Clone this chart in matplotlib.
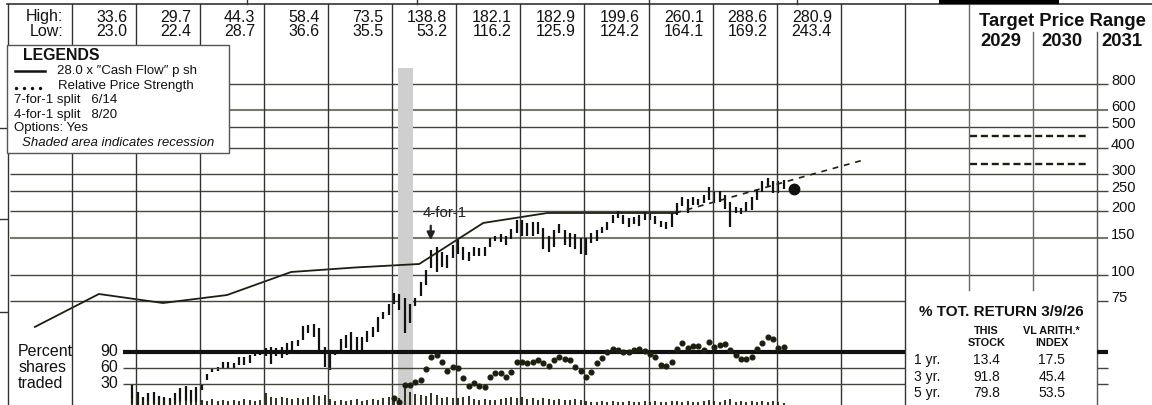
import numpy as np
import matplotlib.pyplot as plt
from matplotlib.patches import Rectangle
from matplotlib.transforms import offset_copy

plt.rcParams['font.family'] = ['Liberation Sans', 'DejaVu Sans']

W, H = 1152, 405

# yearly high / low row
hl_years = list(range(2015, 2027))
hl_high = [33.6, 29.7, 44.3, 58.4, 73.5, 138.8, 182.1, 182.9, 199.6, 260.1, 288.6, 280.9]
hl_low = [23.0, 22.4, 28.7, 36.6, 35.5, 53.2, 116.2, 125.9, 124.2, 164.1, 169.2, 243.4]

# monthly price bars, Dec 2015 .. Feb 2026
bar_high = [
    30.2,  # Dec 2015
    28.0, 26.5, 27.7, 28.0, 26.8, 26.5, 26.3, 27.7, 29.2, 29.9, 28.6, 29.5,
    30.5, 34.2, 36.1, 36.6, 38.9, 38.9, 38.2, 40.8, 41.0, 41.9, 44.2, 44.3,
    45.0, 45.5, 45.0, 45.8, 47.5, 48.9, 49.3, 57.3, 57.9, 58.4, 55.9, 45.8,
    43.4, 43.8, 49.7, 52.1, 53.8, 50.7, 50.7, 54.4, 57.0, 63.2, 67.1, 73.2,
    81.9, 81.4, 77.6, 72.7, 77.6, 92.7, 105.6, 131.3, 136.3, 128.7, 124.3, 138.8,
    146.4, 136.3, 128.7, 136.3, 133.7, 136.3, 149.2, 153.4, 156.8, 152.2, 164.5, 182.1,
    182.9, 176.3, 178.3, 178.3, 166.2, 152.2, 163.3, 175.1, 163.3, 157.8, 156.0, 149.2,
    149.2, 157.8, 163.3, 169.1, 178.3, 192.0, 199.6, 192.0, 185.7, 189.0, 192.0, 199.4,
    196.0, 190.5, 180.0, 178.0, 196.0, 218.0, 235.0, 229.0, 235.0, 229.0, 239.0, 260.1,
    248.0, 250.0, 239.0, 222.0, 210.0, 207.0, 222.0, 235.0, 254.0, 277.0, 288.6, 277.0,
    277.0, 280.9,
]
bar_low = [
    24.5,
    24.3, 22.4, 23.8, 24.6, 24.0, 23.6, 24.2, 24.5, 25.0, 25.3, 24.8, 25.2,
    28.7, 31.9, 34.9, 35.2, 36.1, 36.1, 36.1, 37.5, 37.5, 38.2, 41.4, 41.9,
    41.4, 37.9, 41.4, 40.3, 41.9, 44.2, 46.0, 49.3, 53.4, 51.1, 44.2, 36.6,
    35.5, 41.9, 43.0, 45.0, 43.4, 43.4, 43.4, 48.4, 51.1, 53.8, 62.1, 64.6,
    73.2, 68.4, 53.2, 59.0, 71.3, 79.6, 89.7, 107.6, 103.7, 109.5, 107.6, 119.9,
    126.2, 117.8, 116.2, 122.7, 122.7, 122.7, 136.3, 144.2, 142.9, 138.8, 147.5, 157.8,
    153.4, 152.2, 152.2, 157.0, 132.3, 128.7, 136.3, 157.8, 138.8, 135.4, 133.0, 125.9,
    124.2, 142.0, 144.0, 157.8, 163.3, 176.0, 185.7, 174.0, 168.0, 174.0, 170.0, 182.0,
    181.0, 175.0, 169.0, 164.1, 169.0, 192.0, 211.0, 196.0, 214.0, 214.0, 218.0, 226.0,
    218.0, 222.0, 206.0, 169.2, 196.0, 195.0, 200.0, 203.0, 226.0, 248.0, 263.0, 244.0,
    243.4, 254.0,
]

# monthly percent shares traded, Dec 2015 .. Feb 2026
volume = [
    13,
    14, 12, 11, 12, 13, 12, 11, 12, 13, 12, 11, 12,
    12, 11, 13, 11, 12, 11, 12, 11, 13, 12, 11, 12,
    19, 15, 14, 15, 14, 13, 14, 13, 15, 17, 16, 17,
    13, 11, 12, 11, 12, 13, 11, 12, 13, 12, 14, 15,
    12, 14, 27, 20, 18, 17, 16, 19, 17, 14, 15, 14,
    14, 15, 16, 13, 12, 13, 12, 12, 13, 14, 15, 14,
    15, 13, 14, 12, 14, 13, 12, 13, 12, 12, 13, 12,
    11, 10, 10, 11, 10, 11, 10, 10, 11, 10, 10, 11,
    10, 11, 10, 10, 11, 11, 10, 11, 10, 10, 11, 12,
    11, 10, 12, 13, 10, 11, 10, 11, 10, 11, 10, 11,
    10, 9,
]

# relative price strength, Jan 2020 .. Feb 2026
rel_strength = [
    0.711, 0.686, 0.794, 0.794, 0.814, 0.825, 0.892, 0.967, 0.981, 0.939, 0.883, 0.904,
    0.898, 0.836, 0.789, 0.804, 0.788, 0.783, 0.846, 0.867, 0.867, 0.846, 0.873, 0.936,
    0.936, 0.933, 0.938, 0.948, 0.929, 0.913, 0.950, 0.971, 0.958, 0.952, 0.908, 0.881,
    0.846, 0.877, 0.933, 0.964, 1.002, 1.019, 1.013, 0.998, 0.998, 1.013, 1.017, 1.008,
    0.988, 0.967, 0.917, 0.913, 0.938, 1.019, 1.054, 1.027, 1.038, 1.038, 1.013, 1.061,
    1.033, 1.042, 1.048, 1.013, 0.981, 0.956, 0.956, 0.971, 1.017, 1.058, 1.096, 1.081,
    1.023, 1.029,
]

# 28.0 x cash flow per share
cf_years = [2014.42, 2015.42, 2016.42, 2017.42, 2018.42, 2019.42, 2020.42,
            2021.42, 2022.42, 2023.42, 2024.42]
cf_values = [56.8, 81.3, 73.7, 80.4, 103.3, 108.5, 112.7, 176.2, 196.4, 196.4, 196.4]
cf_proj_years = [2024.42, 2025.42, 2026.42, 2027.33]
cf_proj_values = [196.4, 239.4, 291.6, 348.0]

recent_date, recent_price = 2026.27, 256.0
recession = (2020.084, 2020.318)
split_date = 2020.6
target_low, target_high = 335, 455

price_levels = [800, 600, 500, 400, 300, 250, 200, 150, 100, 75]
pct_levels = [90, 60, 30]

ret_rows = ['1 yr.', '3 yr.', '5 yr.']
ret_stock = [13.4, 91.8, 79.8]
ret_index = [17.5, 45.4, 53.5]

# scales (pixel grid of the original sheet)
X_LEFT, X_RIGHT = 2013.876, 2031.859
P_BOTTOM, P_TOP = 24.28, 1996.0

INK = '#111111'
GRID = '#45453a'
VLINE = '#333333'


def fr(x, y):
    """pixel layout -> axes fraction"""
    return x / W, 1 - y / H


fig = plt.figure(figsize=(W / 100, H / 100), dpi=100)
ax = fig.add_axes([0, 0, 1, 1])
ax.set_yscale('log')
ax.set_xlim(X_LEFT, X_RIGHT)
ax.set_ylim(P_BOTTOM, P_TOP)
ax.axis('off')

ax_vol = fig.add_axes([0, 0, 1, 1], zorder=2)
ax_vol.set_xlim(X_LEFT, X_RIGHT)
ax_vol.set_ylim(7, 412)
ax_vol.axis('off')

ax_pct = fig.add_axes([0, 0, 1, 1], zorder=3)
ax_pct.set_xlim(X_LEFT, X_RIGHT)
ax_pct.set_ylim(-9.375, 750)
ax_pct.axis('off')

ax_rs = fig.add_axes([0, 0, 1, 1], zorder=4)
ax_rs.set_xlim(X_LEFT, X_RIGHT)
ax_rs.set_ylim(0.66875, 3.2)
ax_rs.axis('off')

# price grid
for lv in price_levels:
    soft = lv in (150, 600)
    ax.hlines(lv, 2014.03, 2031.17, colors='#7a7a6a' if soft else GRID,
              lw=1.5 if soft else 1.0, zorder=1)
    ax.text(2031.22, lv, str(lv), fontsize=10.5, ha='left', va='center', color=INK,
            transform=offset_copy(ax.transData, fig=fig, y=3, units='dots'))

# year lines
top_f = fr(0, 4.3)[1]
box_top_f = fr(0, 290)[1]
head_f = fr(0, 32)[1]
for yr in range(2014, 2029):
    ax.axvline(yr, 0, top_f, color=VLINE, lw=1.0, zorder=5)
ax.axvline(2029, box_top_f, top_f, color='#666666', lw=1.0, zorder=5)
ax.axvline(2030, box_top_f, head_f, color='#666666', lw=1.0, zorder=5)
ax.axvline(2031, 0, head_f, color='#555555', lw=1.0, zorder=5)

# top frame pieces
ax.plot([7 / W, 1], [top_f, top_f], transform=ax.transAxes, color=VLINE, lw=1.2, zorder=5)
for xp in [247, 417, 649, 797]:
    ax.plot([xp / W, xp / W], [1, top_f], transform=ax.transAxes, color=VLINE, lw=1.0)
ax.add_patch(Rectangle(fr(939, 4.3), 120 / W, 4.3 / H, transform=ax.transAxes,
                       color='black', lw=0, zorder=5))
for yp in [128, 219, 312]:
    ax.plot([0, 7 / W], [fr(0, yp)[1]] * 2, transform=ax.transAxes, color=VLINE, lw=1.0)

# recession shading
ax.fill_between(list(recession), P_BOTTOM, 950, color='#cfcfcf', lw=0, zorder=2)

# price bars
t_bars = 2015 + (11.3 + np.arange(len(bar_high))) / 12
ax.vlines(t_bars, bar_low, bar_high, colors=INK, lw=1.6, zorder=3)
ax.plot([recent_date], [recent_price], 'o', ms=7.5, color=INK, zorder=3)

# cash flow line
ax.plot(cf_years, cf_values, color='#1e1e10', lw=1.3, zorder=3)
ax.plot(cf_proj_years, cf_proj_values, color='#1e1e10', lw=1.2, ls=(0, (3.5, 3.5)), zorder=3)

# split arrow
ax.annotate('', xy=(split_date, 146), xytext=(split_date, 171),
            arrowprops=dict(arrowstyle='-|>,head_width=0.22,head_length=0.45',
                            color='#222222', lw=1.6, shrinkA=0, shrinkB=0), zorder=4)
ax.text(split_date + 0.22, 196, '4-for-1', fontsize=10.8, ha='center', va='center',
        color='#222222', zorder=4)

# target price range
for tv in (target_low, target_high):
    ax.hlines(tv, 2029.02, 2030.86, colors='#1e1e10', lw=1.7, linestyles=(0, (3.0, 1.6)),
              zorder=4)
ax.text(*fr(1062, 22), 'Target Price Range', transform=ax.transAxes, fontsize=13.3,
        fontweight='bold', ha='center', va='center', color=INK)
for x_head, label in zip([1001, 1062, 1122], ['2029', '2030', '2031']):
    ax.text(*fr(x_head, 41), label, transform=ax.transAxes, fontsize=13.3,
            fontweight='bold', ha='center', va='center', color=INK)

# high / low row
ax.text(*fr(63.5, 17), 'High:', transform=ax.transAxes, fontsize=11.5, ha='right',
        va='center', color=INK)
ax.text(*fr(63.5, 31), 'Low:', transform=ax.transAxes, fontsize=11.5, ha='right',
        va='center', color=INK)
xt = ax.get_xaxis_transform()
for yr, hi, lo in zip(hl_years, hl_high, hl_low):
    ax.text(yr + 0.86, fr(0, 17)[1], f'{hi:.1f}', transform=xt, fontsize=11.5,
            ha='right', va='center', color=INK)
    ax.text(yr + 0.86, fr(0, 31)[1], f'{lo:.1f}', transform=xt, fontsize=11.5,
            ha='right', va='center', color=INK)

# legend box
ax.add_patch(Rectangle(fr(7, 153), 222 / W, 108 / H, transform=ax.transAxes,
                       facecolor='white', edgecolor='#555555', lw=1.0, zorder=6))
ax.text(*fr(23, 56), 'LEGENDS', transform=ax.transAxes, fontsize=11.4, fontweight='bold',
        va='center', color=INK, zorder=7)
ax.plot([15 / W, 45 / W], [fr(0, 71)[1]] * 2, transform=ax.transAxes, color=INK,
        lw=1.8, zorder=7)
ax.text(*fr(57, 71), '28.0 x \u2033Cash Flow\u2033 p sh', transform=ax.transAxes,
        fontsize=9.5, va='center', color=INK, zorder=7)
ax.plot(np.array([16, 24, 32, 40]) / W, [fr(0, 88)[1]] * 4, 'o', ms=1.4,
        transform=ax.transAxes, color=INK, zorder=7)
ax.text(*fr(58, 86), 'Relative Price Strength', transform=ax.transAxes, fontsize=9.5,
        va='center', color=INK, zorder=7)
for yp, line in zip([100, 115, 128], ['7-for-1 split   6/14', '4-for-1 split   8/20',
                                      'Options: Yes']):
    ax.text(*fr(14, yp), line, transform=ax.transAxes, fontsize=9.5, va='center',
            color=INK, zorder=7)
ax.text(*fr(22, 143), 'Shaded area indicates recession', transform=ax.transAxes,
        fontsize=9.5, style='italic', va='center', color=INK, zorder=7)

# total return box
ax.add_patch(Rectangle(fr(905, 405), 192 / W, 115 / H, transform=ax.transAxes,
                       facecolor='white', lw=0, zorder=4))
ax.text(*fr(1001, 312), '% TOT. RETURN 3/9/26', transform=ax.transAxes, fontsize=11,
        fontweight='bold', ha='center', va='center', color=INK, zorder=6)
for xc, l1, l2 in [(986.7, 'THIS', 'STOCK'), (1051.7, 'VL ARITH.*', 'INDEX')]:
    ax.text(*fr(xc, 330.5), l1, transform=ax.transAxes, fontsize=7.8, fontweight='bold',
            ha='center', va='center', color=INK, zorder=6)
    ax.text(*fr(xc, 343), l2, transform=ax.transAxes, fontsize=7.8, fontweight='bold',
            ha='center', va='center', color=INK, zorder=6)
for yp, row, s, ix in zip([360, 376.7, 393.3], ret_rows, ret_stock, ret_index):
    ax.text(*fr(914, yp), row, transform=ax.transAxes, fontsize=10, va='center',
            color=INK, zorder=6)
    ax.text(*fr(986.7, yp), f'{s:.1f}', transform=ax.transAxes, fontsize=10,
            ha='center', va='center', color=INK, zorder=6)
    ax.text(*fr(1051.7, yp), f'{ix:.1f}', transform=ax.transAxes, fontsize=10,
            ha='center', va='center', color=INK, zorder=6)

# percent shares traded lines
for lv, name in zip(pct_levels, ['Percent', 'shares', 'traded']):
    lw = 3.0 if lv == 90 else 1.0
    ax_pct.hlines(lv, 2015.80, 2028.0, colors=INK if lv == 90 else GRID, lw=lw)
    ax_pct.hlines(lv, 2031.0, 2031.17, colors=INK if lv == 90 else GRID, lw=lw)
    ax_pct.text(2015.72, lv, str(lv), fontsize=11.5, ha='right', va='center', color=INK)
    ax_pct.text(2014.16, lv, name, fontsize=11.5, ha='left', va='center', color=INK)

# volume bars
ax_vol.vlines(t_bars, 0, volume, colors='#222211', lw=1.3)

# relative price strength dots
t_rs = 2020 + (0.3 + np.arange(len(rel_strength))) / 12
ax_rs.plot(t_rs, rel_strength, 'o', ms=3.4, color='#1e1e10', ls='none')

fig.savefig('out.png', dpi=100)
